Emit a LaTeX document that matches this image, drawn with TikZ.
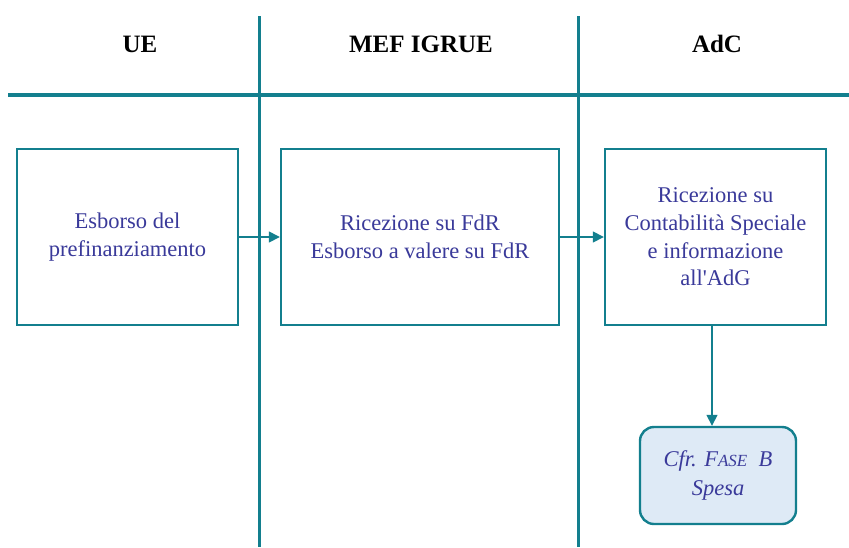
\documentclass[tikz,border=0pt]{standalone}
\usepackage{fontspec}
\setmainfont{Liberation Serif}
\usetikzlibrary{arrows.meta}
\definecolor{teal1}{HTML}{137F8E}
\definecolor{txtblue}{HTML}{3A3A9A}
\definecolor{lightfill}{HTML}{DEEAF6}
\newcommand{\fakesc}[2]{#1{\fontsize{17}{20}\selectfont #2}}
\begin{document}
\begin{tikzpicture}[x=1pt,y=-1pt,
  lane/.style={draw=teal1,line width=3pt},
  proc/.style={draw=teal1,line width=2.4pt,fill=white,text=txtblue,align=center,font=\fontsize{22.5}{27.7}\selectfont,inner sep=0pt},
  hdr/.style={font=\fontsize{25}{28}\selectfont\bfseries,text=black},
  conn/.style={draw=teal1,line width=1.5pt,-{Triangle[length=11pt,width=11pt]}},
  ref/.style={draw=teal1,line width=2.4pt,fill=lightfill,rounded corners=14pt,text=txtblue,align=center,font=\fontsize{22.5}{29}\selectfont\itshape,inner sep=0pt}]
\useasboundingbox (0,0) rectangle (849,547);
\coordinate (v1t) at (259,16); \coordinate (v1b) at (259,547);
\coordinate (v2t) at (578,16); \coordinate (v2b) at (578,547);
\coordinate (hl) at (8,95); \coordinate (hr) at (849,95);
\draw[lane] (v1t) -- (v1b);
\draw[lane] (v2t) -- (v2b);
\draw[draw=teal1,line width=4pt] (hl) -- (hr);
\node[hdr] (h1) at (140,44) {UE};
\node[hdr] (h2) at (421,44) {MEF IGRUE};
\node[hdr] (h3) at (717,44) {AdC};
\node[proc,minimum width=221pt,minimum height=176pt] (b1) at (127.5,237) {Esborso del\\prefinanziamento};
\node[proc,minimum width=278pt,minimum height=176pt] (b2) at (420,237) {Ricezione su FdR\\Esborso a valere su FdR};
\node[proc,minimum width=221pt,minimum height=176pt] (b3) at (715.5,237) {Ricezione su\\Contabilità Speciale\\e informazione\\all\textquotesingle AdG};
\node[ref,minimum width=156pt,minimum height=97pt] (r) at (718,475.5) {Cfr. \fakesc{F}{ASE}\ \ B\\Spesa};
\coordinate (ax) at (712,0);
\draw[conn] (b1.east) -- (b2.west);
\draw[conn] (b2.east) -- (b3.west);
\draw[conn] (b3.south -| ax) -- (r.north -| ax);
\end{tikzpicture}
\end{document}
